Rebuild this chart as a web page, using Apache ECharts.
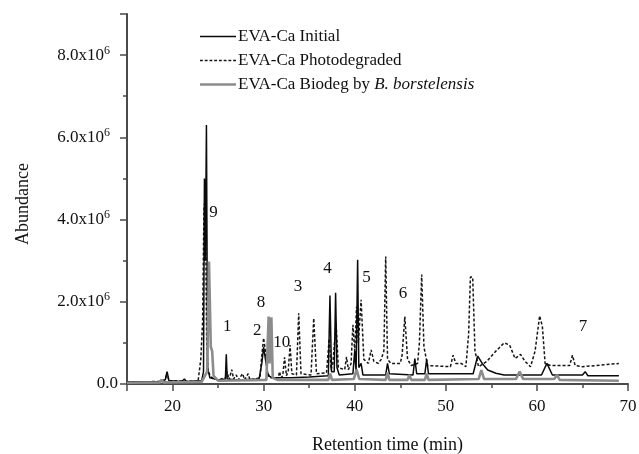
<!DOCTYPE html>
<html>
<head>
<meta charset="utf-8">
<script src="https://cdn.jsdelivr.net/npm/echarts@6/dist/echarts.min.js"></script>
<style>html,body{margin:0;padding:0;background:#fff}#c{width:639px;height:454px}</style>
</head>
<body>
<div id="c"></div>
<script>
// Retention time (min), abundance (x10^6)
const seriesNames = ['EVA-Ca Initial', 'EVA-Ca Photodegraded', 'EVA-Ca Biodeg by B. borstelensis'];

const initialTrace = [[15,0.05],[18.6,0.06],[19.2,0.1],[19.4,0.3],[19.6,0.08],[21.0,0.06],[21.3,0.12],[21.5,0.06],[23.2,0.08],[23.4,0.3],[23.5,5.0],[23.6,3.0],[23.72,6.3],[23.85,0.4],[24.1,0.15],[25.0,0.1],[25.8,0.12],[25.9,0.72],[26.0,0.12],[27.0,0.1],[29.5,0.12],[29.8,0.5],[30.0,0.9],[30.2,0.6],[30.5,0.2],[31.0,0.15],[33.0,0.15],[35.0,0.17],[37.1,0.2],[37.28,2.15],[37.45,0.3],[37.75,0.3],[37.9,2.22],[38.05,0.4],[38.3,0.22],[39.8,0.25],[40.0,0.8],[40.15,0.3],[40.32,3.02],[40.45,0.4],[40.7,0.5],[40.9,0.22],[43.4,0.22],[43.6,0.5],[43.8,0.25],[46.4,0.22],[46.6,0.62],[46.8,0.25],[47.7,0.25],[47.9,0.6],[48.1,0.25],[53.0,0.25],[53.5,0.68],[54.0,0.5],[54.6,0.34],[55.5,0.26],[56.4,0.22],[60.5,0.22],[61.1,0.5],[61.7,0.22],[65.0,0.22],[65.3,0.3],[65.6,0.2],[69,0.2]];

const photoTrace = [[15,0.05],[18.5,0.06],[19.2,0.1],[19.4,0.28],[19.6,0.08],[22.8,0.06],[23.1,0.6],[23.3,1.5],[23.45,4.3],[23.6,4.5],[23.75,1.0],[23.9,0.3],[24.3,0.15],[25.0,0.1],[25.8,0.15],[26.0,0.3],[26.2,0.1],[26.5,0.35],[26.7,0.12],[27.0,0.22],[27.2,0.1],[27.7,0.25],[27.9,0.1],[28.3,0.25],[28.5,0.1],[29.6,0.15],[29.8,0.7],[30.0,1.12],[30.2,0.8],[30.4,0.3],[30.7,0.15],[31.6,0.15],[31.75,0.3],[31.9,0.15],[32.1,0.2],[32.3,0.65],[32.5,0.2],[32.7,0.3],[32.9,0.95],[33.1,0.25],[33.6,0.22],[33.85,1.72],[34.1,0.25],[35.2,0.22],[35.5,1.6],[35.8,0.25],[36.9,0.27],[37.2,1.1],[37.4,0.35],[37.6,0.5],[37.95,1.5],[38.2,0.4],[38.9,0.35],[39.1,0.66],[39.3,0.35],[39.6,0.5],[39.8,1.44],[40.0,0.8],[40.2,1.88],[40.4,1.0],[40.7,2.05],[41.0,0.6],[41.5,0.5],[41.8,0.83],[42.1,0.55],[42.6,0.5],[42.9,0.6],[43.2,0.8],[43.4,3.1],[43.6,0.6],[44.0,0.5],[45.0,0.5],[45.2,0.7],[45.5,1.64],[45.8,0.6],[46.2,0.45],[46.9,0.5],[47.1,1.0],[47.35,2.66],[47.6,0.9],[48.0,0.45],[50.5,0.42],[50.8,0.7],[51.1,0.5],[51.7,0.5],[52.2,0.42],[52.5,1.2],[52.7,2.6],[52.95,2.6],[53.2,0.8],[53.6,0.42],[54.5,0.55],[55.5,0.8],[56.4,1.0],[57.0,0.95],[57.6,0.62],[58.2,0.72],[58.7,0.55],[59.3,0.42],[59.8,0.8],[60.3,1.66],[60.6,1.4],[60.9,0.5],[61.5,0.45],[63.6,0.45],[63.9,0.7],[64.2,0.45],[65.0,0.42],[67.0,0.46],[69,0.5]];

const biodegTrace = [[15,0.03],[18.6,0.04],[18.8,0.1],[19.0,0.04],[23.2,0.05],[23.8,0.3],[24.0,2.98],[24.1,3.0],[24.2,0.9],[24.35,0.8],[24.5,0.2],[25.0,0.08],[30.3,0.1],[30.55,1.64],[30.65,0.5],[30.85,1.62],[31.0,0.15],[31.5,0.1],[37.1,0.1],[37.3,0.25],[37.5,0.1],[39.9,0.12],[40.2,0.35],[40.5,0.12],[43.4,0.1],[43.6,0.28],[43.8,0.1],[45.8,0.1],[46.0,0.22],[46.2,0.1],[47.7,0.1],[47.9,0.25],[48.1,0.1],[53.6,0.12],[53.9,0.34],[54.2,0.12],[57.7,0.12],[58.1,0.3],[58.5,0.12],[61.9,0.12],[62.2,0.22],[62.5,0.1],[69,0.08]];

const peakLabels = ['9','1','8','2','10','3','4','5','6','7'];
const peakLabelTime = [24.5, 26.0, 29.7, 29.3, 32.0, 33.76, 37.0, 41.3, 45.3, 65.05];
const peakLabelAbund = [4.17, 1.39, 1.98, 1.29, 1.02, 2.37, 2.8, 2.6, 2.2, 1.39];

const xMin = 15, xMax = 70, yMin = 0, yMax = 9;

const serif = 'Liberation Serif, DejaVu Serif, serif';
const axisColor = '#4a4a4a';

// legend icons: a 36x14 box (tiny corner specks fix the box), line drawn in the middle
function solidIcon(th) {
  const y0 = (7 - th / 2).toFixed(2);
  return 'path://M0,0h0.01v0.01h-0.01z M35.99,13.99h0.01v0.01h-0.01z M0,' + y0 + 'h36v' + th + 'h-36z';
}
function dashedIcon(th) {
  const y0 = (7 - th / 2).toFixed(2);
  let p = 'path://M0,0h0.01v0.01h-0.01z M35.99,13.99h0.01v0.01h-0.01z';
  for (let x = 0; x < 36; x += 5) {
    p += ' M' + x + ',' + y0 + 'h3v' + th + 'h-3z';
  }
  return p;
}

const chart = echarts.init(document.getElementById('c'), null, {renderer: 'canvas'});

chart.setOption({
  animation: false,
  backgroundColor: '#fff',
  grid: {left: 127, right: 11, top: 14, bottom: 70, containLabel: false, outerBoundsMode: 'none'},
  legend: {
    data: [
      {name: seriesNames[0], icon: solidIcon(1.4)},
      {name: seriesNames[1], icon: dashedIcon(1.4)},
      {name: seriesNames[2], icon: solidIcon(2.6)}
    ],
    orient: 'vertical',
    left: 195,
    top: 23,
    itemWidth: 36,
    itemHeight: 14,
    itemGap: 7,
    itemStyle: {borderWidth: 0},
    textStyle: {
      fontFamily: serif, fontSize: 17, color: '#111', padding: [0,0,0,-3],
      rich: {i: {fontFamily: serif, fontSize: 17, fontStyle: 'italic', color: '#111'}}
    },
    formatter: function (n) {
      return n.replace('B. borstelensis', '{i|B. borstelensis}');
    }
  },
  xAxis: [
    {
      type: 'value', min: xMin, max: xMax,
      name: 'Retention time (min)', nameLocation: 'middle', nameGap: 52,
      nameTextStyle: {fontFamily: serif, fontSize: 18, color: '#111', padding: [0,0,0,20]},
      axisLine: {show: true, onZero: false, lineStyle: {color: axisColor, width: 2}},
      axisTick: {show: true, length: 7, lineStyle: {color: axisColor, width: 1.5}},
      axisLabel: {
        fontFamily: serif, fontSize: 17, color: '#111', margin: 14,
        formatter: function (v) { return v % 10 === 0 ? String(v) : ''; }
      },
      splitLine: {show: false}
    },
    {
      type: 'value', min: xMin, max: xMax, interval: 5, position: 'bottom',
      axisLine: {show: false},
      axisTick: {show: true, length: 4, lineStyle: {color: axisColor, width: 1.5}},
      axisLabel: {show: false},
      splitLine: {show: false}
    }
  ],
  yAxis: [
    {
      type: 'value', min: yMin, max: yMax, interval: 2,
      name: 'Abundance', nameLocation: 'middle', nameGap: 95,
      nameTextStyle: {fontFamily: serif, fontSize: 18, color: '#111', padding: [0, 10, 0, 0]},
      axisLine: {show: true, onZero: false, lineStyle: {color: axisColor, width: 2}},
      axisTick: {show: true, length: 7, lineStyle: {color: axisColor, width: 1.5}},
      axisLabel: {
        fontFamily: serif, fontSize: 17, color: '#111', margin: 9,
        formatter: function (v) {
          if (v % 2 !== 0) return '';
          if (v === 0) return '0.0';
          return v.toFixed(1) + 'x10{s|6}';
        },
        rich: {s: {fontFamily: serif, fontSize: 12, color: '#111', verticalAlign: 'top', padding: [0, 8, 9, 0]}}
      },
      splitLine: {show: false}
    },
    {
      type: 'value', min: yMin, max: yMax, interval: 1, position: 'left',
      axisLine: {show: false},
      axisTick: {show: true, length: 4, lineStyle: {color: axisColor, width: 1.5}},
      axisLabel: {show: false},
      splitLine: {show: false}
    }
  ],
  series: [
    {
      name: seriesNames[1], type: 'line', data: photoTrace, showSymbol: false, symbol: 'none',
      xAxisIndex: 0, yAxisIndex: 0,
      lineStyle: {color: '#151515', width: 1.5, type: [3, 2]}, itemStyle: {color: '#151515'}, z: 2
    },
    {
      name: seriesNames[0], type: 'line', data: initialTrace, showSymbol: false, symbol: 'none',
      xAxisIndex: 0, yAxisIndex: 0,
      lineStyle: {color: '#0a0a0a', width: 1.5}, itemStyle: {color: '#0a0a0a'}, z: 3
    },
    {
      name: seriesNames[2], type: 'line', data: biodegTrace, showSymbol: false, symbol: 'none',
      xAxisIndex: 0, yAxisIndex: 0,
      lineStyle: {color: '#8c8c8c', width: 2.6}, itemStyle: {color: '#8c8c8c'}, z: 4
    },
    {
      name: 'labels', type: 'custom', silent: true,
      xAxisIndex: 0, yAxisIndex: 0,
      data: peakLabels.map(function (t, i) { return [peakLabelTime[i], peakLabelAbund[i], t]; }),
      renderItem: function (params, api) {
        const pt = api.coord([api.value(0), api.value(1)]);
        return {
          type: 'text', x: pt[0], y: pt[1],
          style: {
            text: peakLabels[params.dataIndex], fill: '#111',
            font: '17px ' + serif, align: 'center', verticalAlign: 'middle'
          }
        };
      },
      z: 5
    }
  ]
});
</script>
</body>
</html>
